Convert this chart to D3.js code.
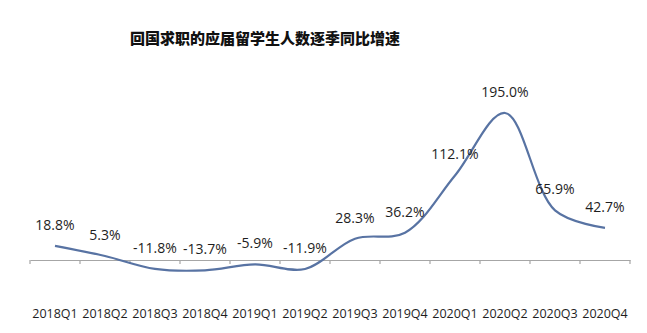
<!DOCTYPE html>
<html>
<head>
<meta charset="utf-8">
<script src="https://cdn.jsdelivr.net/npm/d3@7"></script>
<style>
  body { margin: 0; background: #fff; }
  svg { display: block; }
  .axis-label, .value-label { font-family: "Open Sans", "DejaVu Sans", sans-serif; fill: #1e1e1e; }
</style>
</head>
<body>
<svg id="chart"></svg>
<script>
const width = 647;
const height = 333;

const title = "回国求职的应届留学生人数逐季同比增速";
const quarters = ["2018Q1", "2018Q2", "2018Q3", "2018Q4", "2019Q1", "2019Q2",
                  "2019Q3", "2019Q4", "2020Q1", "2020Q2", "2020Q3", "2020Q4"];
const growth = [18.8, 5.3, -11.8, -13.7, -5.9, -11.9, 28.3, 36.2, 112.1, 195.0, 65.9, 42.7];

const svg = d3.select("#chart")
    .attr("width", width)
    .attr("height", height);

svg.append("rect")
    .attr("width", width)
    .attr("height", height)
    .attr("fill", "#fff");

svg.append("text")
    .attr("x", 265)
    .attr("y", 44)
    .attr("text-anchor", "middle")
    .style("font-family", "'Noto Sans CJK SC', sans-serif")
    .style("font-weight", "900")
    .style("font-size", "15px")
    .style("fill", "#111")
    .text(title);

const x = d3.scaleBand()
    .domain(quarters)
    .range([30, 630]);

const y = d3.scaleLinear()
    .domain([0, 195])
    .range([260, 113]);

// category axis, drawn at zero
const axis = svg.append("g")
    .attr("transform", `translate(0, ${y(0)})`)
    .call(d3.axisBottom(x).tickSize(0).tickFormat(""));
axis.select(".domain").attr("stroke", "#a6a6a6").attr("stroke-width", 1.2);

// separators between categories
svg.append("g")
    .selectAll("line")
    .data(d3.range(quarters.length + 1))
    .enter()
    .append("line")
    .attr("x1", i => 30 + i * x.step())
    .attr("x2", i => 30 + i * x.step())
    .attr("y1", y(0))
    .attr("y2", y(0) + 4)
    .attr("stroke", "#a6a6a6")
    .attr("stroke-width", 1.2);

svg.append("g")
    .selectAll("text")
    .data(quarters)
    .enter()
    .append("text")
    .attr("class", "axis-label")
    .attr("x", d => x(d) + x.bandwidth() / 2)
    .attr("y", 318)
    .attr("text-anchor", "middle")
    .style("font-size", "12.5px")
    .text(d => d);

const line = d3.line()
    .x((d, i) => x(quarters[i]) + x.bandwidth() / 2)
    .y(d => y(d))
    .curve(d3.curveCatmullRom.alpha(0.5));

svg.append("path")
    .datum(growth)
    .attr("d", line)
    .attr("fill", "none")
    .attr("stroke", "#5873a3")
    .attr("stroke-width", 2.2);

svg.append("g")
    .selectAll("text")
    .data(growth)
    .enter()
    .append("text")
    .attr("class", "value-label")
    .attr("x", (d, i) => x(quarters[i]) + x.bandwidth() / 2)
    .attr("y", d => y(d) - 16)
    .attr("text-anchor", "middle")
    .style("font-size", "14px")
    .text(d => d.toFixed(1) + "%");
</script>
</body>
</html>
